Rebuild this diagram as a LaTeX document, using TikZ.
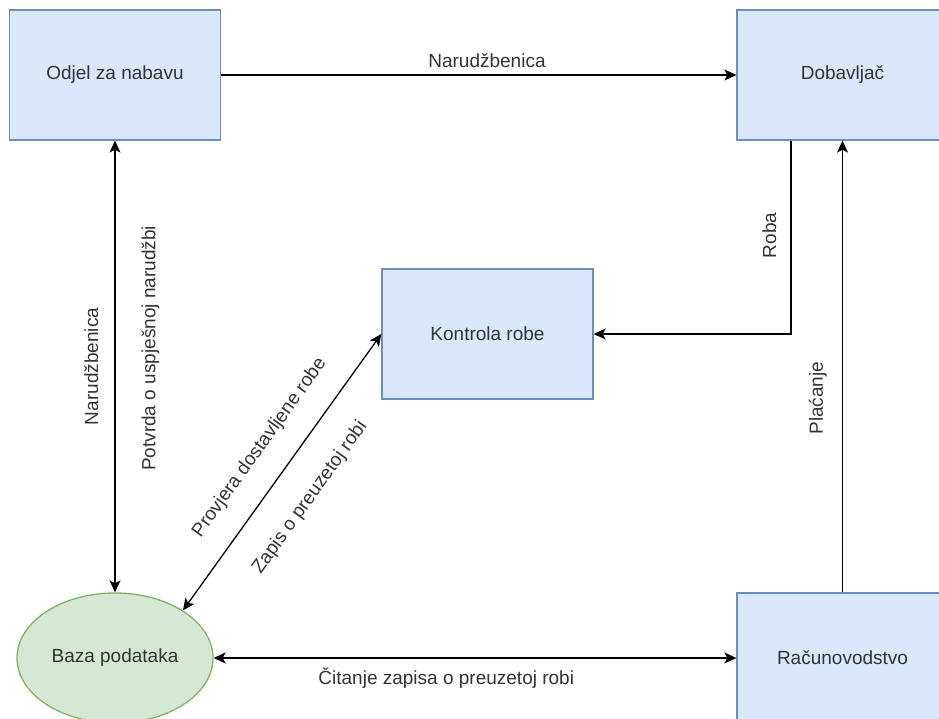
\documentclass[tikz,border=0pt]{standalone}
\usepackage{fontspec}
\setmainfont{Liberation Sans}
\usetikzlibrary{arrows.meta,shapes.geometric}
\definecolor{plavaisp}{HTML}{DAE8FC}
\definecolor{plavarub}{HTML}{6C8EBF}
\definecolor{zelenaisp}{HTML}{D5E8D4}
\definecolor{zelenarub}{HTML}{82B366}
\definecolor{tekst}{HTML}{333333}

\begin{document}
\begin{tikzpicture}[x=1pt,y=1pt,line width=1.3pt,
		font=\fontsize{19}{23}\selectfont,
		>={Stealth[length=12pt,width=11pt,inset=3pt]},
		proces/.style={draw=plavarub,fill=plavaisp,minimum width=211pt,minimum height=130pt,text=tekst},
		spremnik/.style={ellipse,draw=zelenarub,fill=zelenaisp,minimum width=196pt,minimum height=130pt,text=tekst},
		oznaka/.style={text=tekst,inner sep=0pt}]
		\useasboundingbox (0,0) rectangle (939,719);
		\node[proces] (odjel) at (115,644) {Odjel za nabavu};
		\node[proces] (dobav) at (842.5,644) {Dobavljač};
		\node[proces] (kontrola) at (487.5,385) {Kontrola robe};
		\node[spremnik] (baza) at (115,61) {Baza podataka};
		\node[proces] (racun) at (842.5,61) {Računovodstvo};
		\draw[->] (odjel) -- node[oznaka,pos=0.516,anchor=south,inner ysep=7pt] {Narudžbenica} (dobav);
		\draw[<->] (odjel) -- node[oznaka,pos=0.5,rotate=90,anchor=south,inner ysep=16pt] {Narudžbenica}
			node[oznaka,pos=0.46,rotate=90,anchor=north,inner ysep=26pt] {Potvrda o uspješnoj narudžbi} (baza);
		\draw[->] ([xshift=-51.5pt]dobav.south) |- node[oznaka,pos=0.245,rotate=90,anchor=south,inner ysep=14pt] {Roba} (kontrola.east);
		\draw[->] (racun) -- node[oznaka,pos=0.43,rotate=90,anchor=south,inner ysep=15pt] {Plaćanje} (dobav);
		\draw[<->] (baza.35) -- node[oznaka,pos=0.52,sloped,anchor=south,inner ysep=23pt] {Provjera dostavljene robe}
			node[oznaka,pos=0.487,sloped,anchor=north,inner ysep=28pt] {Zapis o preuzetoj robi} (kontrola.west);
		\draw[<->] (baza) -- node[oznaka,pos=0.445,anchor=north,inner ysep=9pt] {Čitanje zapisa o preuzetoj robi} (racun);
\end{tikzpicture}
\end{document}
